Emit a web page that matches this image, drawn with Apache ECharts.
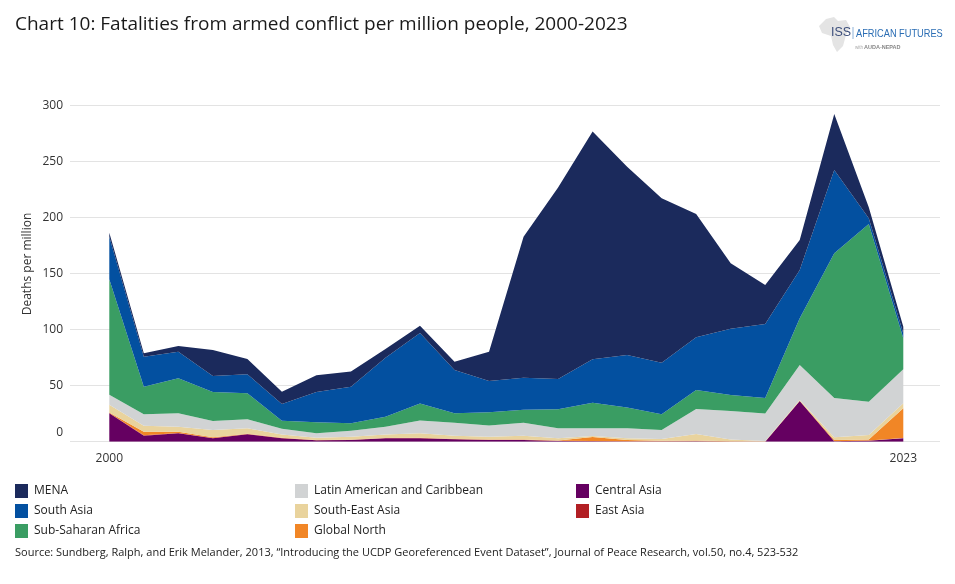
<!DOCTYPE html>
<html>
<head>
<meta charset="utf-8">
<script src="https://cdn.jsdelivr.net/npm/echarts@6/dist/echarts.min.js"></script>
<style>
html,body{margin:0;padding:0;background:#fff;}
#chart{width:955px;height:584px;}
</style>
</head>
<body>
<div id="chart"></div>
<script>
var years = ['2000','2001','2002','2003','2004','2005','2006','2007','2008','2009','2010','2011','2012','2013','2014','2015','2016','2017','2018','2019','2020','2021','2022','2023'];
var centralAsia = [25.3,5.4,7.5,3,6.6,3,1.2,1.5,3,3,2.1,1.5,1.5,0.6,0.5,0.2,0.2,0.3,0,0,36.3,0.3,0.8,3];
var eastAsia = [0.3,0.3,0.3,0.3,0.2,0.2,0.2,0.2,0.2,0.2,0.2,0.2,0.2,0.2,0.2,0.2,0.2,0.2,0.1,0.1,0.1,0.2,0.2,0.2];
var globalNorth = [0.4,3.2,1.1,0.7,0.2,0.3,0.1,0.1,0.1,0.3,0.2,0.3,0.3,0.2,3.5,1.1,0.4,0.5,0.2,0.1,0.1,1.0,1.0,26.6];
var southEastAsia = [7,5.4,4.5,6.4,5,3,2.1,2.7,3.2,4,2.9,2.5,3.4,2,0.9,1.5,1.6,5.9,1.7,0.4,0.7,2.4,4,4.5];
var latinAmerica = [9,10.1,12,8.1,8,5,3.9,5.3,6.9,11.5,11.6,10,11.6,9,6.9,9,8,22.3,25.4,24.6,31.3,35.1,29.7,30.3];
var subSaharanAfrica = [103,24.7,31.2,25.9,23.2,7.3,9.8,6.6,8.9,15,8.3,11.7,11.6,16.9,22.8,18.5,14.1,16.9,14.3,13.8,41.7,129.2,158.7,27.7];
var southAsia = [38,26.8,23.8,14.3,17,14.9,27.1,32.7,52.7,63,38.7,28,28.5,27.1,38.8,46.9,46,47.1,59.2,66.1,43.1,74.4,5,4.5];
var mena = [3.6,3,5,23.2,13.6,11,14.9,13.5,7.7,6.5,7.4,26.2,125.9,171,203.4,168.1,146.8,110,58.4,34.8,26.8,50,9.9,5.9];

var seriesDefs = [
  {name:'Central Asia', data:centralAsia, color:'#650061'},
  {name:'East Asia', data:eastAsia, color:'#b21f24'},
  {name:'Global North', data:globalNorth, color:'#f18626'},
  {name:'South-East Asia', data:southEastAsia, color:'#e9d39d'},
  {name:'Latin American and Caribbean', data:latinAmerica, color:'#d1d3d4'},
  {name:'Sub-Saharan Africa', data:subSaharanAfrica, color:'#3a9d63'},
  {name:'South Asia', data:southAsia, color:'#0350a0'},
  {name:'MENA', data:mena, color:'#1b2a5c'}
];

var chart = echarts.init(document.getElementById('chart'), null, {renderer:'canvas'});
var baseFont = 'Open Sans';
function legendCol(left, names){
  return {
    left:left, top:484, orient:'vertical', icon:'rect', itemWidth:13, itemHeight:14, itemGap:6,
    padding:0, data:names, selectedMode:false,
    textStyle:{color:'#222', fontSize:12, fontFamily:baseFont, padding:[0,0,0,1]}
  };
}
var gridTop = 105.7, gridBottom = 142.3;
chart.setOption({
  animation:false,
  title:{
    text:'Chart 10: Fatalities from armed conflict per million people, 2000-2023',
    left:10, top:10,
    textStyle:{fontFamily:baseFont, fontSize:19, fontWeight:'normal', color:'#1a1a1a'}
  },
  legend:[
    legendCol(15, ['MENA','South Asia','Sub-Saharan Africa']),
    legendCol(295, ['Latin American and Caribbean','South-East Asia','Global North']),
    legendCol(576, ['Central Asia','East Asia'])
  ],
  grid:[
    {left:109.3, right:51.7, top:gridTop, bottom:gridBottom, containLabel:false},
    {left:70, right:15, top:gridTop, bottom:gridBottom, containLabel:false}
  ],
  xAxis:[
    {
      gridIndex:0, type:'category', data:years, boundaryGap:false,
      axisLine:{show:false}, axisTick:{show:false}, splitLine:{show:false},
      axisLabel:{
        interval:function(i){return i===0 || i===years.length-1;},
        color:'#333', fontSize:12, fontFamily:baseFont, margin:11
      }
    },
    {gridIndex:1, type:'value', min:0, max:1, show:false}
  ],
  yAxis:[
    {gridIndex:0, type:'value', min:0, max:300, show:false, splitLine:{show:false}},
    {
      gridIndex:1, type:'value', min:0, max:300, interval:50,
      axisLine:{show:false}, axisTick:{show:false},
      splitLine:{lineStyle:{color:'#e3e3e3', width:1}},
      axisLabel:{
        color:'#333', fontSize:12, fontFamily:baseFont, margin:7,
        formatter:function(v){ return v===0 ? '{z|0}' : String(v); },
        rich:{z:{color:'#333', fontSize:12, fontFamily:baseFont, padding:[0,0,18,0]}}
      }
    }
  ],
  series: seriesDefs.map(function(s){
    return {
      name:s.name, type:'line', stack:'total', data:s.data,
      xAxisIndex:0, yAxisIndex:0,
      showSymbol:false, symbol:'none',
      lineStyle:{width:0}, itemStyle:{color:s.color},
      areaStyle:{color:s.color, opacity:1}
    };
  }),
  graphic:[
    {type:'text', x:28, y:264, rotation:Math.PI/2, style:{text:'Deaths per million', fill:'#333', font:'12px Open Sans', align:'center', verticalAlign:'middle'}},
    {type:'polygon', shape:{points:[[826,19],[834,17],[838,21],[846,20],[850,27],[846,35],[843,46],[837,52],[833,45],[831,36],[822,33],[819,26]]}, style:{fill:'#e4e4e4'}, z:1},
    {type:'text', x:831, y:26.5, style:{text:'ISS', fill:'#3d4f7c', font:'12.5px Liberation Sans'}, z:2},
    {type:'rect', shape:{x:852.5, y:27, width:1, height:12}, style:{fill:'#8fb3d9'}, z:2},
    {type:'text', x:856, y:28, scaleX:0.84, style:{text:'AFRICAN FUTURES', fill:'#2a6db4', font:'11px Liberation Sans'}, z:2},
    {type:'text', x:855, y:45, style:{text:'with ', fill:'#aaa', font:'4.5px Liberation Sans'}, z:2},
    {type:'text', x:864, y:44.5, style:{text:'AUDA-NEPAD', fill:'#888', font:'bold 5.5px Liberation Sans'}, z:2},
    {type:'text', x:15, y:547, style:{text:'Source: Sundberg, Ralph, and Erik Melander, 2013, \u201cIntroducing the UCDP Georeferenced Event Dataset\u201d, Journal of Peace Research, vol.50, no.4, 523-532', fill:'#222', font:'11px Open Sans'}}
  ]
});
</script>
</body>
</html>
